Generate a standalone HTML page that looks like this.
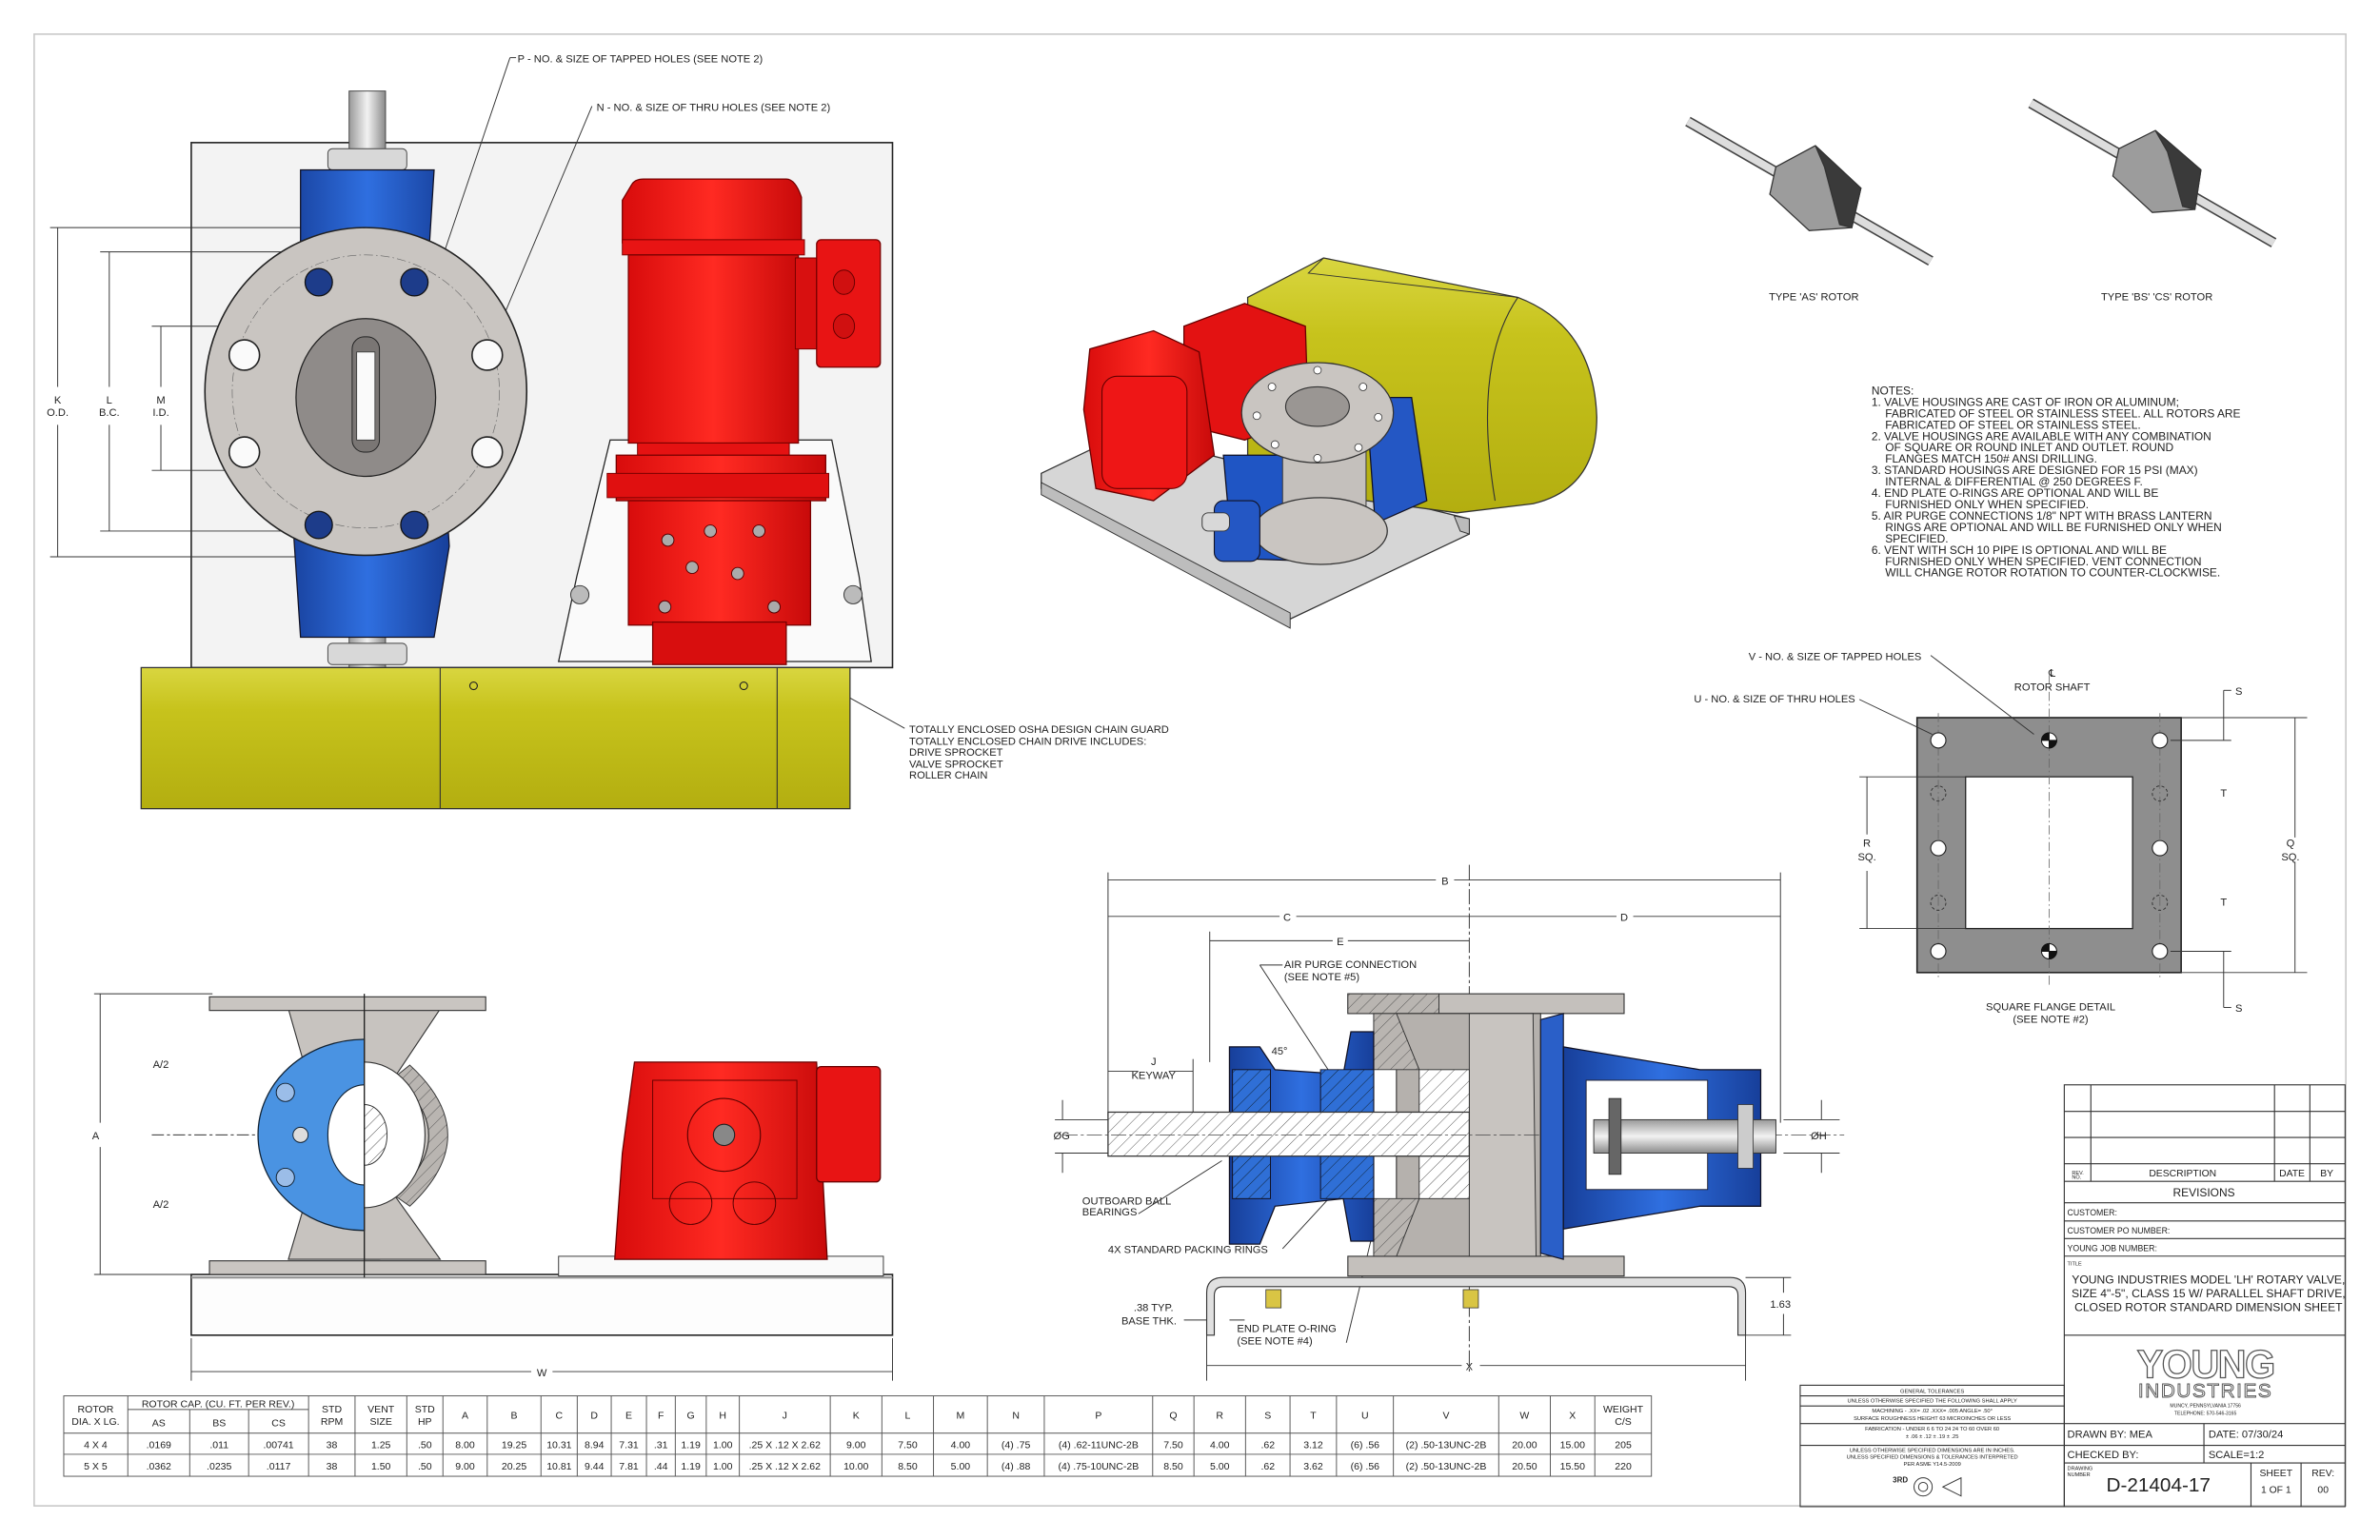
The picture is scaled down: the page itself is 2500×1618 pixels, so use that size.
<!DOCTYPE html>
<html><head><meta charset="utf-8"><style>
html,body{margin:0;padding:0;background:#fff;}
svg{display:block;}
text{font-family:"Liberation Sans",sans-serif;fill:#222;}
text.logo{fill:#fff;stroke:#555;}
</style></head><body>
<svg width="2500" height="1618" viewBox="0 0 1568 1015" preserveAspectRatio="none" xmlns="http://www.w3.org/2000/svg">
<defs>
<pattern id="h" width="6" height="6" patternUnits="userSpaceOnUse" patternTransform="rotate(45)"><rect width="6" height="6" fill="#fff"/><line x1="0" y1="0" x2="0" y2="6" stroke="#555" stroke-width="0.6"/></pattern>
<pattern id="hb" width="6" height="6" patternUnits="userSpaceOnUse" patternTransform="rotate(45)"><rect width="6" height="6" fill="#2f6fd6"/><line x1="0" y1="0" x2="0" y2="6" stroke="#123" stroke-width="0.6"/></pattern>
<pattern id="hg" width="6" height="6" patternUnits="userSpaceOnUse" patternTransform="rotate(45)"><rect width="6" height="6" fill="#b9b5b1"/><line x1="0" y1="0" x2="0" y2="6" stroke="#444" stroke-width="0.5"/></pattern>
<linearGradient id="blue" x1="0" x2="1"><stop offset="0" stop-color="#173f9a"/><stop offset="0.5" stop-color="#2f6fe0"/><stop offset="1" stop-color="#173f9a"/></linearGradient>
<linearGradient id="red" x1="0" x2="1"><stop offset="0" stop-color="#d80c0c"/><stop offset="0.5" stop-color="#ff2a22"/><stop offset="1" stop-color="#c80a0a"/></linearGradient>
<linearGradient id="shaft" x1="0" x2="1"><stop offset="0" stop-color="#9a9a9a"/><stop offset="0.5" stop-color="#f2f2f2"/><stop offset="1" stop-color="#8a8a8a"/></linearGradient>
<linearGradient id="shafth" x1="0" y1="0" x2="0" y2="1"><stop offset="0" stop-color="#9a9a9a"/><stop offset="0.5" stop-color="#f2f2f2"/><stop offset="1" stop-color="#8a8a8a"/></linearGradient>
<linearGradient id="yel" x1="0" y1="0" x2="0" y2="1"><stop offset="0" stop-color="#d9d640"/><stop offset="0.3" stop-color="#c7c31c"/><stop offset="1" stop-color="#b3ae10"/></linearGradient>
</defs>
<rect x="0" y="0" width="1568" height="1015" fill="#fff"/>
<rect x="22.5" y="22.5" width="1523" height="970" fill="none" stroke="#c8c8c8" stroke-width="1"/>

<!-- ============ TOP LEFT VIEW ============ -->
<rect x="126" y="94" width="462" height="346" fill="#f3f3f3" stroke="#222" stroke-width="1"/>
<line x1="336" y1="38" x2="288" y2="180" stroke="#333" stroke-width="0.6"/>
<line x1="336" y1="38" x2="340" y2="38" stroke="#333" stroke-width="0.6"/>
<line x1="390" y1="70" x2="326" y2="222" stroke="#333" stroke-width="0.6"/>
<text x="341" y="41" font-size="7">P - NO. &amp; SIZE OF TAPPED HOLES (SEE NOTE 2)</text>
<text x="393" y="73" font-size="7">N - NO. &amp; SIZE OF THRU HOLES (SEE NOTE 2)</text>
<g stroke="#333" stroke-width="0.6">
<line x1="33" y1="150" x2="200" y2="150"/><line x1="33" y1="367" x2="200" y2="367"/>
<line x1="66" y1="166" x2="215" y2="166"/><line x1="66" y1="350" x2="215" y2="350"/>
<line x1="100" y1="215" x2="240" y2="215"/><line x1="100" y1="310" x2="240" y2="310"/>
<line x1="38" y1="150" x2="38" y2="255"/><line x1="38" y1="280" x2="38" y2="367"/>
<line x1="72" y1="166" x2="72" y2="255"/><line x1="72" y1="280" x2="72" y2="350"/>
<line x1="106" y1="215" x2="106" y2="255"/><line x1="106" y1="280" x2="106" y2="310"/>
</g>
<text x="38" y="266" font-size="7" text-anchor="middle">K</text><text x="38" y="274" font-size="7" text-anchor="middle">O.D.</text>
<text x="72" y="266" font-size="7" text-anchor="middle">L</text><text x="72" y="274" font-size="7" text-anchor="middle">B.C.</text>
<text x="106" y="266" font-size="7" text-anchor="middle">M</text><text x="106" y="274" font-size="7" text-anchor="middle">I.D.</text>
<rect x="230" y="60" width="24" height="380" fill="url(#shaft)" stroke="#444" stroke-width="0.6"/>
<rect x="216" y="98" width="52" height="14" rx="3" fill="#d8d8d8" stroke="#444" stroke-width="0.6"/>
<rect x="216" y="424" width="52" height="14" rx="3" fill="#d8d8d8" stroke="#444" stroke-width="0.6"/>
<path d="M198,112 L286,112 L283,160 L296,250 L290,268 L296,360 L286,420 L198,420 L194,360 L188,268 L194,250 L198,160 Z" fill="url(#blue)" stroke="#112" stroke-width="0.8"/>
<rect x="218" y="162" width="46" height="52" fill="#f3f3f3"/><rect x="230" y="162" width="24" height="52" fill="url(#shaft)"/>
<rect x="218" y="312" width="46" height="52" fill="#f3f3f3"/><rect x="230" y="312" width="24" height="52" fill="url(#shaft)"/>
<ellipse cx="241" cy="258" rx="106" ry="108" fill="#c9c5c1" stroke="#222" stroke-width="1"/>
<ellipse cx="241" cy="258" rx="88" ry="90" fill="none" stroke="#666" stroke-width="0.4" stroke-dasharray="6,2,1,2"/>
<ellipse cx="241" cy="262" rx="46" ry="52" fill="#8f8b89" stroke="#222" stroke-width="0.8"/>
<rect x="232" y="222" width="18" height="76" rx="8" fill="#7a7674" stroke="#222" stroke-width="0.6"/>
<rect x="235" y="232" width="12" height="58" fill="#fafafa" stroke="#333" stroke-width="0.5"/>
<g fill="#fafafa" stroke="#222" stroke-width="1">
<circle cx="161" cy="234" r="10"/><circle cx="321" cy="234" r="10"/><circle cx="161" cy="298" r="10"/><circle cx="321" cy="298" r="10"/></g>
<g stroke="#111" stroke-width="0.8"><circle cx="210" cy="186" r="9" fill="#1d3c8a"/><circle cx="273" cy="186" r="9" fill="#1d3c8a"/><circle cx="210" cy="346" r="9" fill="#1d3c8a"/><circle cx="273" cy="346" r="9" fill="#1d3c8a"/></g>
<polygon points="368,436 574,436 566,380 548,290 402,290 380,380" fill="#fafafa" stroke="#222" stroke-width="0.8"/>
<g fill="#bbb" stroke="#333" stroke-width="0.6"><circle cx="382" cy="392" r="6"/><circle cx="562" cy="392" r="6"/></g>
<path d="M416,122 Q418,118 424,118 L518,118 Q524,118 528,130 L528,160 L410,160 L410,132 Z" fill="url(#red)" stroke="#700" stroke-width="0.8"/>
<rect x="410" y="158" width="120" height="10" fill="#e81414" stroke="#700" stroke-width="0.6"/>
<rect x="414" y="168" width="112" height="124" fill="url(#red)" stroke="#700" stroke-width="0.8"/>
<rect x="524" y="170" width="14" height="60" fill="#d81010" stroke="#700" stroke-width="0.6"/>
<rect x="538" y="158" width="42" height="84" rx="3" fill="#e81414" stroke="#700" stroke-width="0.8"/>
<ellipse cx="556" cy="186" rx="7" ry="8" fill="#d01010" stroke="#600" stroke-width="0.6"/>
<ellipse cx="556" cy="215" rx="7" ry="8" fill="#d01010" stroke="#600" stroke-width="0.6"/>
<rect x="420" y="292" width="100" height="22" fill="#e51212" stroke="#700" stroke-width="0.6"/>
<rect x="406" y="300" width="138" height="30" fill="url(#red)" stroke="#700" stroke-width="0.8"/>
<rect x="400" y="312" width="146" height="16" fill="#e01010" stroke="#700" stroke-width="0.6"/>
<rect x="414" y="330" width="120" height="82" fill="url(#red)" stroke="#700" stroke-width="0.8"/>
<g fill="#aaa" stroke="#500" stroke-width="0.6"><circle cx="440" cy="356" r="4"/><circle cx="468" cy="350" r="4"/><circle cx="500" cy="350" r="4"/><circle cx="456" cy="374" r="4"/><circle cx="486" cy="378" r="4"/><circle cx="438" cy="400" r="4"/><circle cx="510" cy="400" r="4"/></g>
<rect x="430" y="410" width="88" height="28" fill="#d80e0e" stroke="#700" stroke-width="0.8"/>
<rect x="93" y="440" width="467" height="93" fill="url(#yel)" stroke="#333" stroke-width="0.8"/>
<line x1="290" y1="440" x2="290" y2="533" stroke="#333" stroke-width="0.7"/>
<line x1="512" y1="440" x2="512" y2="533" stroke="#333" stroke-width="0.7"/>
<circle cx="312" cy="452" r="2.5" fill="none" stroke="#222" stroke-width="0.7"/><circle cx="490" cy="452" r="2.5" fill="none" stroke="#222" stroke-width="0.7"/>
<line x1="560" y1="460" x2="596" y2="480" stroke="#333" stroke-width="0.6"/>
<g font-size="7"><text x="599" y="483">TOTALLY ENCLOSED OSHA DESIGN CHAIN GUARD</text><text x="599" y="491">TOTALLY ENCLOSED CHAIN DRIVE INCLUDES:</text><text x="599" y="498">DRIVE SPROCKET</text><text x="599" y="506">VALVE SPROCKET</text><text x="599" y="513">ROLLER CHAIN</text></g>

<!-- ============ ISO VIEW ============ -->
<polygon points="686,312 740,286 968,342 968,352 850,408 686,322" fill="#d6d6d6" stroke="#333" stroke-width="0.8"/>
<polygon points="686,318 850,404 850,414 686,326" fill="#bdbdbd" stroke="#333" stroke-width="0.6"/>
<path d="M958,340 L968,342 L968,352 L962,350 Z" fill="#bbb" stroke="#333" stroke-width="0.6"/>
<path d="M822,196 L872,170 L1000,196 Q1050,215 1052,275 Q1052,322 1010,332 L960,338 L900,330 L822,300 Z" fill="url(#yel)" stroke="#333" stroke-width="0.8"/>
<path d="M1000,196 Q970,240 985,330" fill="none" stroke="#333" stroke-width="0.7"/>
<path d="M872,170 L862,180 L1000,196" fill="none" stroke="#333" stroke-width="0.6"/>
<path d="M780,215 L820,200 L860,215 L862,275 L820,290 L780,280 Z" fill="#e31212" stroke="#600" stroke-width="0.8"/>
<path d="M718,230 L760,218 L790,232 L800,300 L760,330 L722,322 L714,270 Z" fill="url(#red)" stroke="#600" stroke-width="0.8"/>
<rect x="726" y="248" width="56" height="74" rx="10" fill="#ee1616" stroke="#600" stroke-width="0.7"/>
<path d="M806,300 L860,300 L870,370 L812,368 Z" fill="#1f55c4" stroke="#112" stroke-width="0.8"/>
<path d="M900,262 L930,262 L940,330 L906,345 Z" fill="#2457c4" stroke="#112" stroke-width="0.8"/>
<rect x="845" y="290" width="55" height="70" fill="#c4c0bc" stroke="#333" stroke-width="0.6"/>
<ellipse cx="870" cy="350" rx="44" ry="22" fill="#c9c5c1" stroke="#333" stroke-width="0.8"/>
<ellipse cx="868" cy="272" rx="50" ry="33" fill="#c9c5c1" stroke="#333" stroke-width="0.8"/>
<ellipse cx="868" cy="268" rx="21" ry="13" fill="#9a9693" stroke="#333" stroke-width="0.7"/>
<g fill="#fff" stroke="#333" stroke-width="0.5"><circle cx="838" cy="255" r="2.5"/><circle cx="868" cy="244" r="2.5"/><circle cx="898" cy="255" r="2.5"/><circle cx="908" cy="275" r="2.5"/><circle cx="895" cy="295" r="2.5"/><circle cx="868" cy="302" r="2.5"/><circle cx="840" cy="293" r="2.5"/><circle cx="828" cy="274" r="2.5"/></g>
<rect x="800" y="330" width="30" height="40" rx="6" fill="#2457c4" stroke="#112" stroke-width="0.7"/>
<rect x="792" y="338" width="18" height="12" rx="4" fill="#d8d8d8" stroke="#333" stroke-width="0.6"/>

<!-- ============ ROTORS ============ -->
<g stroke="#333" stroke-width="0.8">
<line x1="1112" y1="80" x2="1272" y2="172" stroke-width="7" stroke="#444"/>
<line x1="1112" y1="80" x2="1272" y2="172" stroke-width="5" stroke="#ddd"/>
<polygon points="1170,110 1196,96 1226,124 1220,150 1192,152 1166,128" fill="#9c9c9c"/>
<polygon points="1196,96 1226,124 1220,150 1212,148 1202,110" fill="#3a3a3a"/>
<line x1="1338" y1="68" x2="1498" y2="160" stroke-width="7" stroke="#444"/>
<line x1="1338" y1="68" x2="1498" y2="160" stroke-width="5" stroke="#ddd"/>
<polygon points="1396,98 1420,86 1450,112 1446,138 1418,140 1392,116" fill="#9c9c9c"/>
<polygon points="1420,86 1450,112 1446,138 1438,136 1428,100" fill="#3a3a3a"/>
</g>
<text x="1195" y="198" font-size="7" text-anchor="middle">TYPE 'AS' ROTOR</text>
<text x="1421" y="198" font-size="7" text-anchor="middle">TYPE 'BS' 'CS' ROTOR</text>

<!-- ============ NOTES ============ -->
<g font-size="7.5">
<text x="1233" y="260">NOTES:</text>
<text x="1233" y="267.5">1. VALVE HOUSINGS ARE CAST OF IRON OR ALUMINUM;</text>
<text x="1242" y="275">FABRICATED OF STEEL OR STAINLESS STEEL. ALL ROTORS ARE</text>
<text x="1242" y="282.5">FABRICATED OF STEEL OR STAINLESS STEEL.</text>
<text x="1233" y="290">2. VALVE HOUSINGS ARE AVAILABLE WITH ANY COMBINATION</text>
<text x="1242" y="297.5">OF SQUARE OR ROUND INLET AND OUTLET. ROUND</text>
<text x="1242" y="305">FLANGES MATCH 150# ANSI DRILLING.</text>
<text x="1233" y="312.5">3. STANDARD HOUSINGS ARE DESIGNED FOR 15 PSI (MAX)</text>
<text x="1242" y="320">INTERNAL &amp; DIFFERENTIAL @ 250 DEGREES F.</text>
<text x="1233" y="327.5">4. END PLATE O-RINGS ARE OPTIONAL AND WILL BE</text>
<text x="1242" y="335">FURNISHED ONLY WHEN SPECIFIED.</text>
<text x="1233" y="342.5">5. AIR PURGE CONNECTIONS 1/8" NPT WITH BRASS LANTERN</text>
<text x="1242" y="350">RINGS ARE OPTIONAL AND WILL BE FURNISHED ONLY WHEN</text>
<text x="1242" y="357.5">SPECIFIED.</text>
<text x="1233" y="365">6. VENT WITH SCH 10 PIPE IS OPTIONAL AND WILL BE</text>
<text x="1242" y="372.5">FURNISHED ONLY WHEN SPECIFIED. VENT CONNECTION</text>
<text x="1242" y="380">WILL CHANGE ROTOR ROTATION TO COUNTER-CLOCKWISE.</text>
</g>

<!-- ============ SQUARE FLANGE ============ -->
<rect x="1263" y="473" width="174" height="168" fill="#8e8e8e" stroke="#222" stroke-width="1"/>
<rect x="1295" y="512" width="110" height="100" fill="#fff" stroke="#222" stroke-width="0.8"/>
<g stroke="#666" stroke-width="0.5" stroke-dasharray="6,2,1,2"><line x1="1350" y1="445" x2="1350" y2="650"/><line x1="1277" y1="470" x2="1277" y2="645"/><line x1="1423" y1="470" x2="1423" y2="645"/></g>
<g fill="#fff" stroke="#222" stroke-width="0.7"><circle cx="1277" cy="488" r="5"/><circle cx="1423" cy="488" r="5"/><circle cx="1277" cy="627" r="5"/><circle cx="1423" cy="627" r="5"/><circle cx="1277" cy="559" r="5"/><circle cx="1423" cy="559" r="5"/></g>
<g fill="none" stroke="#333" stroke-width="0.6" stroke-dasharray="2,1.5"><circle cx="1277" cy="523" r="5"/><circle cx="1423" cy="523" r="5"/><circle cx="1277" cy="595" r="5"/><circle cx="1423" cy="595" r="5"/></g>
<g stroke="#111" stroke-width="0.6"><circle cx="1350" cy="488" r="5" fill="#fff"/><path d="M1350,488 L1355,488 A5,5 0 0 1 1350,493 Z M1350,488 L1345,488 A5,5 0 0 1 1350,483 Z" fill="#111"/><circle cx="1350" cy="627" r="5" fill="#fff"/><path d="M1350,627 L1355,627 A5,5 0 0 1 1350,632 Z M1350,627 L1345,627 A5,5 0 0 1 1350,622 Z" fill="#111"/></g>
<g stroke="#333" stroke-width="0.6" fill="none">
<path d="M1272,432 L1340,484"/><path d="M1225,461 L1273,484"/>
<line x1="1437" y1="473" x2="1520" y2="473"/><line x1="1437" y1="641" x2="1520" y2="641"/>
<line x1="1512" y1="473" x2="1512" y2="552"/><line x1="1512" y1="568" x2="1512" y2="641"/>
<line x1="1225" y1="512" x2="1295" y2="512"/><line x1="1225" y1="612" x2="1295" y2="612"/>
<line x1="1230" y1="512" x2="1230" y2="550"/><line x1="1230" y1="574" x2="1230" y2="612"/>
<line x1="1465" y1="455" x2="1465" y2="488"/><line x1="1465" y1="627" x2="1465" y2="664"/>
<line x1="1430" y1="488" x2="1470" y2="488"/><line x1="1430" y1="627" x2="1470" y2="627"/>
<line x1="1465" y1="455" x2="1470" y2="455"/><line x1="1465" y1="664" x2="1470" y2="664"/>
</g>
<g font-size="7">
<text x="1152" y="435">V - NO. &amp; SIZE OF TAPPED HOLES</text>
<text x="1116" y="463">U - NO. &amp; SIZE OF THRU HOLES</text>
<text x="1352" y="446" text-anchor="middle">℄</text>
<text x="1352" y="455" text-anchor="middle">ROTOR SHAFT</text>
<text x="1475" y="458" text-anchor="middle">S</text><text x="1475" y="667" text-anchor="middle">S</text>
<text x="1465" y="525" text-anchor="middle">T</text><text x="1465" y="597" text-anchor="middle">T</text>
<text x="1509" y="558" text-anchor="middle">Q</text><text x="1509" y="567" text-anchor="middle">SQ.</text>
<text x="1230" y="558" text-anchor="middle">R</text><text x="1230" y="567" text-anchor="middle">SQ.</text>
<text x="1351" y="666" text-anchor="middle">SQUARE FLANGE DETAIL</text>
<text x="1351" y="674" text-anchor="middle">(SEE NOTE #2)</text>
</g>

<!-- ============ BOTTOM LEFT VIEW ============ -->
<g stroke="#333" stroke-width="0.6"><line x1="62" y1="655" x2="140" y2="655"/><line x1="62" y1="840" x2="140" y2="840"/><line x1="66" y1="655" x2="66" y2="740"/><line x1="66" y1="756" x2="66" y2="840"/><line x1="100" y1="748" x2="240" y2="748" stroke-dasharray="8,2,2,2"/><line x1="126" y1="882" x2="126" y2="910"/><line x1="588" y1="882" x2="588" y2="910"/><line x1="126" y1="904" x2="350" y2="904"/><line x1="364" y1="904" x2="588" y2="904"/></g>
<text x="63" y="751" font-size="7" text-anchor="middle">A</text>
<text x="106" y="704" font-size="7" text-anchor="middle">A/2</text>
<text x="106" y="796" font-size="7" text-anchor="middle">A/2</text>
<text x="357" y="907" font-size="7" text-anchor="middle">W</text>
<rect x="126" y="840" width="462" height="40" fill="#fdfdfd" stroke="#222" stroke-width="1"/>
<line x1="126" y1="842" x2="588" y2="842" stroke="#999" stroke-width="1.5"/>
<rect x="368" y="828" width="214" height="13" fill="#fafafa" stroke="#333" stroke-width="0.6"/>
<path d="M190,665 L250,665 L240,700 L250,748 L240,796 L250,830 L190,830 L200,796 L190,748 L200,700 Z" fill="#c7c3bf" stroke="#333" stroke-width="0.7"/>
<path d="M240,665 L290,665 L260,710 Q305,748 260,788 L290,830 L240,830 Z" fill="#c7c3bf" stroke="#333" stroke-width="0.7"/>
<path d="M260,710 Q305,748 260,788 L270,795 Q320,748 270,702 Z" fill="url(#hg)" stroke="#333" stroke-width="0.6"/>
<rect x="138" y="657" width="182" height="9" fill="#c9c5c1" stroke="#333" stroke-width="0.7"/>
<rect x="138" y="831" width="182" height="9" fill="#c9c5c1" stroke="#333" stroke-width="0.7"/>
<path d="M240,685 A70,63 0 0 0 240,811 Z" fill="#4a93e2" stroke="#123" stroke-width="0.8"/>
<path d="M240,715 A24,33 0 0 0 240,781 Z" fill="#fff" stroke="#123" stroke-width="0.7"/>
<path d="M240,700 A40,48 0 0 1 240,796 Z" fill="#fff" stroke="#333" stroke-width="0.7"/>
<path d="M240,728 A15,20 0 0 1 240,768 Z" fill="url(#h)" stroke="#333" stroke-width="0.6"/>
<g fill="#9bbde8" stroke="#123" stroke-width="0.6"><circle cx="188" cy="720" r="6"/><circle cx="188" cy="776" r="6"/><circle cx="198" cy="748" r="5" fill="#ddd"/></g>
<line x1="240" y1="655" x2="240" y2="842" stroke="#222" stroke-width="0.8"/>
<path d="M418,700 L538,700 L545,830 L405,830 L410,760 Z" fill="url(#red)" stroke="#600" stroke-width="0.8"/>
<path d="M430,712 L525,712 L525,790 L430,790 Z" fill="none" stroke="#600" stroke-width="0.6"/>
<circle cx="477" cy="748" r="24" fill="none" stroke="#500" stroke-width="0.7"/>
<circle cx="477" cy="748" r="7" fill="#888" stroke="#222" stroke-width="0.7"/>
<circle cx="455" cy="793" r="14" fill="none" stroke="#500" stroke-width="0.6"/><circle cx="497" cy="793" r="14" fill="none" stroke="#500" stroke-width="0.6"/>
<rect x="538" y="703" width="42" height="76" rx="3" fill="#e81414" stroke="#600" stroke-width="0.8"/>

<!-- ============ SECTION VIEW ============ -->
<g stroke="#333" stroke-width="0.6" fill="none">
<line x1="730" y1="575" x2="730" y2="736"/><line x1="1173" y1="575" x2="1173" y2="740"/>
<line x1="730" y1="580" x2="946" y2="580"/><line x1="958" y1="580" x2="1173" y2="580"/>
<line x1="730" y1="604" x2="843" y2="604"/><line x1="854" y1="604" x2="968" y2="604"/>
<line x1="968" y1="604" x2="1065" y2="604"/><line x1="1076" y1="604" x2="1173" y2="604"/>
<line x1="797" y1="614" x2="797" y2="700"/>
<line x1="797" y1="620" x2="878" y2="620"/><line x1="888" y1="620" x2="968" y2="620"/>
<line x1="968" y1="570" x2="968" y2="905" stroke-dasharray="10,2,2,2"/>
<line x1="730" y1="706" x2="750" y2="706"/><line x1="770" y1="706" x2="786" y2="706"/><line x1="786" y1="698" x2="786" y2="735"/>
<line x1="695" y1="738" x2="730" y2="738"/><line x1="695" y1="760" x2="730" y2="760"/>
<line x1="1175" y1="738" x2="1212" y2="738"/><line x1="1175" y1="760" x2="1212" y2="760"/>
<line x1="1200" y1="725" x2="1200" y2="738"/><line x1="1200" y1="760" x2="1200" y2="773"/>
<line x1="700" y1="725" x2="700" y2="738"/><line x1="700" y1="760" x2="700" y2="773"/>
<line x1="830" y1="636" x2="875" y2="705"/><line x1="830" y1="636" x2="845" y2="636"/>
<line x1="750" y1="800" x2="805" y2="765"/><line x1="845" y1="823" x2="880" y2="785"/>
<line x1="887" y1="885" x2="905" y2="810"/>
<line x1="795" y1="880" x2="795" y2="910"/><line x1="1150" y1="880" x2="1150" y2="910"/>
<line x1="795" y1="900" x2="963" y2="900"/><line x1="975" y1="900" x2="1150" y2="900"/>
<line x1="1150" y1="842" x2="1180" y2="842"/><line x1="1150" y1="880" x2="1180" y2="880"/><line x1="1175" y1="842" x2="1175" y2="852"/><line x1="1175" y1="866" x2="1175" y2="880"/>
<line x1="780" y1="870" x2="795" y2="870"/><line x1="810" y1="870" x2="820" y2="870"/>
</g>
<text x="952" y="583" font-size="7" text-anchor="middle">B</text>
<text x="848" y="607" font-size="7" text-anchor="middle">C</text>
<text x="1070" y="607" font-size="7" text-anchor="middle">D</text>
<text x="883" y="623" font-size="7" text-anchor="middle">E</text>
<path d="M795,880 L795,852 Q795,842 806,842 L1140,842 Q1150,842 1150,852 L1150,880 L1145,880 L1145,854 Q1145,848 1139,848 L806,848 Q800,848 800,854 L800,880 Z" fill="#e0e0e0" stroke="#333" stroke-width="0.7"/>
<g fill="#d9c544" stroke="#333" stroke-width="0.5"><rect x="834" y="850" width="10" height="12"/><rect x="964" y="850" width="10" height="12"/></g>
<rect x="888" y="655" width="182" height="13" fill="#c4c0bc" stroke="#333" stroke-width="0.7"/>
<rect x="888" y="828" width="182" height="13" fill="#c4c0bc" stroke="#333" stroke-width="0.7"/>
<rect x="888" y="655" width="60" height="13" fill="url(#hg)" stroke="#333" stroke-width="0.6"/>
<rect x="920" y="668" width="95" height="160" fill="#b5b1ad" stroke="#333" stroke-width="0.7"/>
<path d="M968,668 L1010,668 L1012,828 L968,828 Z" fill="#c8c4c0" stroke="#333" stroke-width="0.6"/>
<path d="M905,668 L920,668 L935,705 L905,705 Z" fill="url(#hg)" stroke="#333" stroke-width="0.6"/>
<path d="M905,790 L935,790 L920,828 L905,828 Z" fill="url(#hg)" stroke="#333" stroke-width="0.6"/>
<rect x="935" y="705" width="33" height="28" fill="url(#h)" stroke="#333" stroke-width="0.6"/>
<rect x="935" y="762" width="33" height="28" fill="url(#h)" stroke="#333" stroke-width="0.6"/>
<path d="M890,680 L905,680 L905,818 L890,818 L885,790 L840,795 L830,820 L810,820 L810,690 L830,690 L840,705 L885,708 Z" fill="url(#blue)" stroke="#112" stroke-width="0.8"/>
<path d="M870,705 L905,705 L905,733 L870,733 Z" fill="url(#hb)" stroke="#112" stroke-width="0.6"/>
<path d="M870,762 L905,762 L905,790 L870,790 Z" fill="url(#hb)" stroke="#112" stroke-width="0.6"/>
<rect x="812" y="705" width="25" height="28" fill="url(#hb)" stroke="#112" stroke-width="0.6"/>
<rect x="812" y="762" width="25" height="28" fill="url(#hb)" stroke="#112" stroke-width="0.6"/>
<rect x="730" y="733" width="238" height="29" fill="url(#h)" stroke="#333" stroke-width="0.8"/>
<line x1="700" y1="748" x2="1215" y2="748" stroke="#444" stroke-width="0.4" stroke-dasharray="10,2,2,2"/>
<path d="M1015,672 L1030,668 L1030,830 L1015,826 Z" fill="#2a5fc8" stroke="#112" stroke-width="0.7"/>
<path d="M1030,690 L1120,705 L1160,705 L1160,795 L1120,795 L1030,810 Z" fill="url(#blue)" stroke="#112" stroke-width="0.8"/>
<rect x="1045" y="712" width="80" height="72" fill="#fff" stroke="#223" stroke-width="0.6"/>
<rect x="1050" y="738" width="120" height="22" fill="url(#shafth)" stroke="#333" stroke-width="0.6"/>
<rect x="1060" y="724" width="8" height="50" fill="#666" stroke="#222" stroke-width="0.5"/>
<rect x="1145" y="728" width="10" height="42" fill="#ccc" stroke="#333" stroke-width="0.5"/>
<g font-size="7">
<text x="846" y="638">AIR PURGE CONNECTION</text><text x="846" y="646">(SEE NOTE #5)</text>
<text x="843" y="695" text-anchor="middle">45°</text>
<text x="760" y="702" text-anchor="middle">J</text><text x="760" y="711" text-anchor="middle">KEYWAY</text>
<text x="694" y="751">ØG</text><text x="1193" y="751">ØH</text>
<text x="713" y="794">OUTBOARD BALL</text><text x="713" y="801">BEARINGS</text>
<text x="730" y="826">4X STANDARD PACKING RINGS</text>
<text x="760" y="864" text-anchor="middle">.38 TYP.</text><text x="757" y="873" text-anchor="middle">BASE THK.</text>
<text x="815" y="878">END PLATE O-RING</text><text x="815" y="886">(SEE NOTE #4)</text>
<text x="1173" y="862" text-anchor="middle">1.63</text>
<text x="968" y="903" text-anchor="middle">X</text>
</g>

<!-- ============ TABLE ============ -->
<g stroke="#555" stroke-width="0.6" fill="none">
<rect x="42" y="920" width="1046" height="53"/>
<line x1="42" y1="944.6" x2="1088" y2="944.6"/><line x1="42" y1="958.5" x2="1088" y2="958.5"/>
<line x1="84.2" y1="929" x2="203.3" y2="929"/>
<line x1="84.2" y1="920" x2="84.2" y2="973"/><line x1="125" y1="929" x2="125" y2="973"/><line x1="163.8" y1="929" x2="163.8" y2="973"/>
<line x1="203.3" y1="920" x2="203.3" y2="973"/><line x1="233.9" y1="920" x2="233.9" y2="973"/><line x1="268" y1="920" x2="268" y2="973"/><line x1="291.8" y1="920" x2="291.8" y2="973"/><line x1="321" y1="920" x2="321" y2="973"/><line x1="356.4" y1="920" x2="356.4" y2="973"/><line x1="380.3" y1="920" x2="380.3" y2="973"/><line x1="402.7" y1="920" x2="402.7" y2="973"/><line x1="425.9" y1="920" x2="425.9" y2="973"/><line x1="444.9" y1="920" x2="444.9" y2="973"/><line x1="465.3" y1="920" x2="465.3" y2="973"/><line x1="487.1" y1="920" x2="487.1" y2="973"/><line x1="547" y1="920" x2="547" y2="973"/><line x1="581" y1="920" x2="581" y2="973"/><line x1="615" y1="920" x2="615" y2="973"/><line x1="650.5" y1="920" x2="650.5" y2="973"/><line x1="688" y1="920" x2="688" y2="973"/><line x1="759.4" y1="920" x2="759.4" y2="973"/><line x1="786.6" y1="920" x2="786.6" y2="973"/><line x1="820.6" y1="920" x2="820.6" y2="973"/><line x1="849.9" y1="920" x2="849.9" y2="973"/><line x1="880.5" y1="920" x2="880.5" y2="973"/><line x1="918" y1="920" x2="918" y2="973"/><line x1="987.4" y1="920" x2="987.4" y2="973"/><line x1="1021.4" y1="920" x2="1021.4" y2="973"/><line x1="1050.7" y1="920" x2="1050.7" y2="973"/>
</g>
<g font-size="6.6" text-anchor="middle">
<text x="63" y="931">ROTOR</text><text x="63" y="939">DIA. X LG.</text>
<text x="143.7" y="927.5">ROTOR CAP. (CU. FT. PER REV.)</text>
<text x="104.6" y="940">AS</text><text x="144.4" y="940">BS</text><text x="183.5" y="940">CS</text>
<text x="218.6" y="931">STD</text><text x="218.6" y="939">RPM</text>
<text x="251" y="931">VENT</text><text x="251" y="939">SIZE</text>
<text x="279.9" y="931">STD</text><text x="279.9" y="939">HP</text>
<text x="306.4" y="935">A</text><text x="338.7" y="935">B</text><text x="368.4" y="935">C</text><text x="391.5" y="935">D</text><text x="414.3" y="935">E</text><text x="435.4" y="935">F</text><text x="455.1" y="935">G</text><text x="476.2" y="935">H</text><text x="517" y="935">J</text><text x="564" y="935">K</text><text x="598" y="935">L</text><text x="632.8" y="935">M</text><text x="669.3" y="935">N</text><text x="723.7" y="935">P</text><text x="773" y="935">Q</text><text x="803.6" y="935">R</text><text x="835.3" y="935">S</text><text x="865.2" y="935">T</text><text x="899.3" y="935">U</text><text x="952.7" y="935">V</text><text x="1004.4" y="935">W</text><text x="1036" y="935">X</text>
<text x="1069.4" y="931">WEIGHT</text><text x="1069.4" y="939">C/S</text>
</g>
<g font-size="6.6" text-anchor="middle">
<text x="63" y="954.5">4 X 4</text><text x="104.6" y="954.5">.0169</text><text x="144.4" y="954.5">.011</text><text x="183.5" y="954.5">.00741</text><text x="218.6" y="954.5">38</text><text x="251" y="954.5">1.25</text><text x="279.9" y="954.5">.50</text><text x="306.4" y="954.5">8.00</text><text x="338.7" y="954.5">19.25</text><text x="368.4" y="954.5">10.31</text><text x="391.5" y="954.5">8.94</text><text x="414.3" y="954.5">7.31</text><text x="435.4" y="954.5">.31</text><text x="455.1" y="954.5">1.19</text><text x="476.2" y="954.5">1.00</text><text x="517" y="954.5">.25 X .12 X 2.62</text><text x="564" y="954.5">9.00</text><text x="598" y="954.5">7.50</text><text x="632.8" y="954.5">4.00</text><text x="669.3" y="954.5">(4) .75</text><text x="723.7" y="954.5">(4) .62-11UNC-2B</text><text x="773" y="954.5">7.50</text><text x="803.6" y="954.5">4.00</text><text x="835.3" y="954.5">.62</text><text x="865.2" y="954.5">3.12</text><text x="899.3" y="954.5">(6) .56</text><text x="952.7" y="954.5">(2) .50-13UNC-2B</text><text x="1004.4" y="954.5">20.00</text><text x="1036" y="954.5">15.00</text><text x="1069.4" y="954.5">205</text>
<text x="63" y="968.5">5 X 5</text><text x="104.6" y="968.5">.0362</text><text x="144.4" y="968.5">.0235</text><text x="183.5" y="968.5">.0117</text><text x="218.6" y="968.5">38</text><text x="251" y="968.5">1.50</text><text x="279.9" y="968.5">.50</text><text x="306.4" y="968.5">9.00</text><text x="338.7" y="968.5">20.25</text><text x="368.4" y="968.5">10.81</text><text x="391.5" y="968.5">9.44</text><text x="414.3" y="968.5">7.81</text><text x="435.4" y="968.5">.44</text><text x="455.1" y="968.5">1.19</text><text x="476.2" y="968.5">1.00</text><text x="517" y="968.5">.25 X .12 X 2.62</text><text x="564" y="968.5">10.00</text><text x="598" y="968.5">8.50</text><text x="632.8" y="968.5">5.00</text><text x="669.3" y="968.5">(4) .88</text><text x="723.7" y="968.5">(4) .75-10UNC-2B</text><text x="773" y="968.5">8.50</text><text x="803.6" y="968.5">5.00</text><text x="835.3" y="968.5">.62</text><text x="865.2" y="968.5">3.62</text><text x="899.3" y="968.5">(6) .56</text><text x="952.7" y="968.5">(2) .50-13UNC-2B</text><text x="1004.4" y="968.5">20.50</text><text x="1036" y="968.5">15.50</text><text x="1069.4" y="968.5">220</text>
</g>

<!-- ============ TITLE BLOCK ============ -->
<g stroke="#333" stroke-width="0.7" fill="none">
<rect x="1360" y="715" width="185" height="278"/>
<line x1="1360" y1="732.5" x2="1545" y2="732.5"/><line x1="1360" y1="749.7" x2="1545" y2="749.7"/><line x1="1360" y1="767" x2="1545" y2="767"/><line x1="1360" y1="778.6" x2="1545" y2="778.6"/><line x1="1360" y1="792.7" x2="1545" y2="792.7"/><line x1="1360" y1="804.7" x2="1545" y2="804.7"/><line x1="1360" y1="816.3" x2="1545" y2="816.3"/><line x1="1360" y1="827.9" x2="1545" y2="827.9"/><line x1="1360" y1="880" x2="1545" y2="880"/><line x1="1360" y1="938.3" x2="1545" y2="938.3"/><line x1="1360" y1="952.6" x2="1545" y2="952.6"/><line x1="1360" y1="964.2" x2="1545" y2="964.2"/>
<line x1="1377.5" y1="715" x2="1377.5" y2="778.6"/><line x1="1498.5" y1="715" x2="1498.5" y2="778.6"/><line x1="1521.8" y1="715" x2="1521.8" y2="778.6"/>
<line x1="1452" y1="938.3" x2="1452" y2="964.2"/><line x1="1483" y1="964.2" x2="1483" y2="993"/><line x1="1516" y1="964.2" x2="1516" y2="993"/>
<rect x="1186" y="913" width="174" height="80"/>
<line x1="1186" y1="920" x2="1360" y2="920"/><line x1="1186" y1="926.7" x2="1360" y2="926.7"/><line x1="1186" y1="938.3" x2="1360" y2="938.3"/><line x1="1186" y1="952.6" x2="1360" y2="952.6"/>
</g>
<g font-size="6.5">
<text x="1365" y="774" font-size="3.5">REV.</text><text x="1365" y="777" font-size="3.5">NO.</text>
<text x="1438" y="775.5" text-anchor="middle">DESCRIPTION</text><text x="1510" y="775.5" text-anchor="middle">DATE</text><text x="1533" y="775.5" text-anchor="middle">BY</text>
<text x="1452" y="788.5" text-anchor="middle" font-size="7.5">REVISIONS</text>
<text x="1362" y="801" font-size="5.5">CUSTOMER:</text>
<text x="1362" y="813" font-size="5.5">CUSTOMER PO NUMBER:</text>
<text x="1362" y="824.5" font-size="5.5">YOUNG JOB NUMBER:</text>
<text x="1362" y="834" font-size="3.5">TITLE</text>
<text x="1455" y="846" text-anchor="middle" font-size="7.6">YOUNG INDUSTRIES MODEL 'LH' ROTARY VALVE,</text>
<text x="1455" y="855" text-anchor="middle" font-size="7.6">SIZE 4"-5", CLASS 15 W/ PARALLEL SHAFT DRIVE,</text>
<text x="1455" y="864" text-anchor="middle" font-size="7.6">CLOSED ROTOR STANDARD DIMENSION SHEET</text>
<text class="logo" x="1453" y="908" text-anchor="middle" font-size="26" stroke-width="0.8" font-weight="bold" letter-spacing="-1">YOUNG</text>
<text class="logo" x="1453" y="921" text-anchor="middle" font-size="13" stroke-width="0.6" letter-spacing="1">INDUSTRIES</text>
<text x="1453" y="927.5" text-anchor="middle" font-size="3.2">MUNCY, PENNSYLVANIA 17756</text>
<text x="1453" y="932.5" text-anchor="middle" font-size="3.2">TELEPHONE: 570-546-3165</text>
<text x="1362" y="947.5" font-size="7">DRAWN BY: MEA</text>
<text x="1455" y="947.5" font-size="7">DATE: 07/30/24</text>
<text x="1362" y="961" font-size="7">CHECKED BY:</text>
<text x="1455" y="961" font-size="7">SCALE=1:2</text>
<text x="1362" y="969" font-size="3.5">DRAWING</text><text x="1362" y="973" font-size="3.5">NUMBER</text>
<text x="1422" y="983" text-anchor="middle" font-size="13">D-21404-17</text>
<text x="1499.5" y="973" text-anchor="middle" font-size="6.5">SHEET</text><text x="1499.5" y="984" text-anchor="middle" font-size="6.5">1 OF 1</text>
<text x="1530.5" y="973" text-anchor="middle" font-size="6.5">REV:</text><text x="1530.5" y="984" text-anchor="middle" font-size="6.5">00</text>
</g>
<g font-size="3.6" text-anchor="middle">
<text x="1273" y="918">GENERAL TOLERANCES</text>
<text x="1273" y="924.5">UNLESS OTHERWISE SPECIFIED THE FOLLOWING SHALL APPLY</text>
<text x="1273" y="931">MACHINING - .XX= .02 .XXX= .005 ANGLE= .50°</text>
<text x="1273" y="936">SURFACE ROUGHNESS HEIGHT 63 MICROINCHES OR LESS</text>
<text x="1273" y="943">FABRICATION - UNDER 6  6 TO 24  24 TO 60  OVER 60</text>
<text x="1273" y="948">± .06    ± .12    ± .19    ± .25</text>
<text x="1273" y="957">UNLESS OTHERWISE SPECIFIED DIMENSIONS ARE IN INCHES.</text>
<text x="1273" y="961.5">UNLESS SPECIFIED DIMENSIONS &amp; TOLERANCES INTERPRETED</text>
<text x="1273" y="966">PER ASME Y14.5-2009</text>
</g>
<text x="1247" y="977" font-size="5" font-weight="bold">3RD</text>
<circle cx="1267" cy="980" r="6" fill="none" stroke="#333" stroke-width="0.6"/><circle cx="1267" cy="980" r="3" fill="none" stroke="#333" stroke-width="0.6"/>
<path d="M1280,980 L1292,974 L1292,986 Z" fill="none" stroke="#333" stroke-width="0.6"/>
</svg>
</body></html>
